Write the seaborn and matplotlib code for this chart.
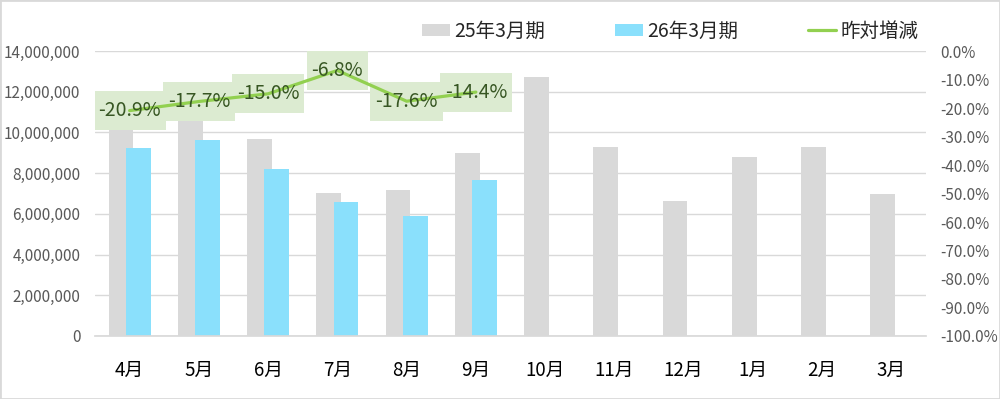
import numpy as np
import pandas as pd
import seaborn as sns
import matplotlib.pyplot as plt
from matplotlib.patches import Rectangle
from matplotlib.lines import Line2D
from matplotlib.ticker import FuncFormatter, MultipleLocator

# ---- data ----
months = ['4月', '5月', '6月', '7月', '8月', '9月', '10月', '11月', '12月', '1月', '2月', '3月']
series_names = ['25年3月期', '26年3月期']
yoy_name = '昨対増減'
sales_fy25 = [11690000, 11680000, 9680000, 7020000, 7150000, 8980000,
              12740000, 9300000, 6630000, 8790000, 9270000, 6960000]
sales_fy26 = [9250000, 9610000, 8200000, 6570000, 5910000, 7660000]
yoy_pct = [-20.9, -17.7, -15.0, -6.8, -17.6, -14.4]

# ---- style ----
grey = '#d9d9d9'
blue = '#8ae0fc'
green = '#92d050'
label_fc = '#dcebd1'
label_tc = '#375623'
tick_grey = '#595959'

sns.set_theme(style='white')
plt.rcParams['font.family'] = ['Noto Sans CJK JP', 'DejaVu Sans']

df = pd.DataFrame({
    'month': months + months[:len(sales_fy26)],
    'value': sales_fy25 + sales_fy26,
    'series': [series_names[0]] * len(sales_fy25) + [series_names[1]] * len(sales_fy26),
})

fig = plt.figure(figsize=(10, 3.99), dpi=100)
ax = fig.add_axes([0.095, 0.158, 0.831, 0.714])

sns.barplot(data=df, x='month', y='value', hue='series', order=months,
            hue_order=series_names, palette=[grey, blue], width=0.5,
            saturation=1, legend=False, ax=ax)
# widen bars so the two series overlap slightly (Excel-style overlap)
for p in ax.patches:
    c = p.get_x() + p.get_width() / 2
    p.set_width(0.36)
    p.set_x(c - 0.18)
    p.set_edgecolor('none')

ax.set_ylim(0, 14000000)
ax.yaxis.set_major_locator(MultipleLocator(2000000))
ax.yaxis.set_major_formatter(FuncFormatter(lambda v, _: f'{v:,.0f}'))
ax.yaxis.grid(True, color=grey, lw=1)
ax.set_axisbelow(True)
ax.set_xlabel('')
ax.set_ylabel('')
for s in ['top', 'right', 'left']:
    ax.spines[s].set_visible(False)
ax.spines['bottom'].set_color(grey)
ax.tick_params(axis='y', length=0, pad=10.5, labelsize=11, labelcolor=tick_grey)
ax.tick_params(axis='x', length=0, pad=17, labelsize=13.5, labelcolor='#000000')

ax2 = ax.twinx()
sns.lineplot(x=np.arange(len(yoy_pct)), y=yoy_pct, ax=ax2, color=green,
             lw=2.3, legend=False, zorder=3)
ax2.set_ylim(-100, 0)
ax2.yaxis.set_major_locator(MultipleLocator(10))
ax2.yaxis.set_major_formatter(FuncFormatter(lambda v, _: f'{v:.1f}%'))
ax2.grid(False)
for s in ['top', 'right', 'left', 'bottom']:
    ax2.spines[s].set_visible(False)
ax2.tick_params(axis='y', length=0, pad=10.5, labelsize=11, labelcolor=tick_grey)
ax2.set_ylabel('')

ax.set_xlim(-0.5, len(months) - 0.5)
ax2.set_xlim(-0.5, len(months) - 0.5)

labels = []
for i, v in enumerate(yoy_pct):
    t = ax2.text(i, v, f'{v:.1f}%', ha='center', va='center', fontsize=14,
                 color=label_tc, zorder=5)
    labels.append(t)

handles = [Rectangle((0, 0), 1, 1, fc=grey, ec='none'),
           Rectangle((0, 0), 1, 1, fc=blue, ec='none'),
           Line2D([0], [0], color=green, lw=2.3)]
fig.legend(handles, series_names + [yoy_name], loc='center',
           bbox_to_anchor=(0.67, 0.922), ncol=3, frameon=False, fontsize=14,
           handlelength=1.45, handleheight=0.6, handletextpad=0.2,
           columnspacing=3.6)

# label background boxes (behind the line, like the Excel data-label fill)
fig.canvas.draw()
renderer = fig.canvas.get_renderer()
for t in labels:
    bb = t.get_window_extent(renderer)
    cy = (bb.y0 + bb.y1) / 2
    ax2.add_patch(Rectangle((bb.x0 - 5, cy - 19.5), bb.width + 10, 39,
                            transform=None, fc=label_fc, ec='none', zorder=1))

fig.add_artist(Rectangle((0, 0), 1, 1, transform=fig.transFigure, fill=False,
                         ec=grey, lw=2))

fig.savefig('out.png', dpi=100)
